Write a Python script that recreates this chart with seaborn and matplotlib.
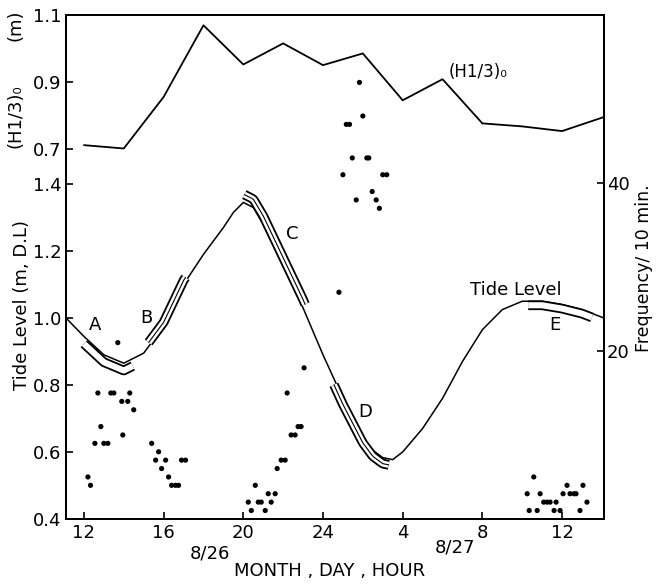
import numpy as np
import pandas as pd
import matplotlib
matplotlib.use("Agg")
import matplotlib.pyplot as plt
import seaborn as sns

# --- data ---
# significant wave height (H1/3)0, every 2 hours from 8/26 12h
h_hour = [12, 14, 16, 18, 20, 22, 24, 26, 28, 30, 32, 34, 36, 38.1]
h_value = [0.712, 0.702, 0.856, 1.07, 0.953, 1.016, 0.951, 0.986, 0.846, 0.909,
           0.777, 0.768, 0.754, 0.796]

# tide level (m, D.L)
tide_hour = [11.1, 12, 13, 14, 15, 16, 17, 18, 19, 19.5, 20, 20.5, 21, 22, 23, 24,
             25, 26, 26.5, 27, 27.5, 28, 29, 30, 31, 32, 33, 34, 35, 36, 37, 38.1]
tide_level = [1.00, 0.945, 0.89, 0.865, 0.895, 0.975, 1.10, 1.19, 1.27, 1.315, 1.345,
              1.33, 1.28, 1.155, 1.03, 0.89, 0.76, 0.645, 0.605, 0.583, 0.577, 0.60,
              0.67, 0.76, 0.87, 0.965, 1.025, 1.05, 1.05, 1.04, 1.025, 1.00]

# frequency per 10 min (dots)
freq_hour = [12.2, 12.33, 12.55, 12.7, 12.85, 13.0, 13.2, 13.35, 13.5, 13.7, 13.9,
             13.95, 14.2, 14.3, 14.5, 15.4, 15.6, 15.75, 15.9, 16.1, 16.25, 16.4,
             16.6, 16.75, 16.9, 17.1,
             20.25, 20.4, 20.6, 20.75, 20.9, 21.1, 21.25, 21.4, 21.6, 21.7, 21.9,
             22.1, 22.2, 22.4, 22.6, 22.75, 22.9, 23.05,
             24.8, 25.0, 25.17, 25.33, 25.47, 25.67, 25.83, 26.0, 26.2, 26.3, 26.47,
             26.67, 26.83, 27.0, 27.2,
             34.25, 34.35, 34.58, 34.75, 34.9, 35.08, 35.25, 35.4, 35.6, 35.7, 35.9,
             36.05, 36.25, 36.4, 36.6, 36.7, 36.9, 37.05, 37.25]
freq_count = [5, 4, 9, 15, 11, 9, 9, 15, 15, 21, 14, 10, 14, 15, 13, 9, 7, 8, 6, 7,
              5, 4, 4, 4, 7, 7,
              2, 1, 4, 2, 2, 1, 3, 2, 3, 6, 7, 7, 15, 10, 10, 11, 11, 18,
              27, 41, 47, 47, 43, 38, 52, 48, 43, 43, 39, 38, 37, 41, 41,
              3, 1, 5, 1, 3, 2, 2, 2, 1, 2, 1, 3, 4, 3, 3, 3, 1, 4, 2]

x_ticks = [12, 16, 20, 24, 28, 32, 36]
x_tick_labels = ["12", "16", "20", "24", "4", "8", "12"]

df_h = pd.DataFrame({"hour": h_hour, "H": h_value})
df_tide = pd.DataFrame({"hour": tide_hour, "tide": tide_level})
df_freq = pd.DataFrame({"hour": freq_hour, "freq": freq_count})

sns.set_style("ticks")
plt.rcParams["font.family"] = ["DejaVu Sans"]
plt.rcParams["text.color"] = "black"
plt.rcParams["axes.labelcolor"] = "black"

fig = plt.figure(figsize=(6.6, 5.87), dpi=100)
ax = fig.add_axes([0.1, 0.116, 0.815, 0.858])
ax_h = ax.twinx()
ax_f = ax.twinx()

# tide level curve
sns.lineplot(data=df_tide, x="hour", y="tide", ax=ax, color="black", lw=1.1)

# hollow bands along the tide curve
def band(h0, h1, dy, center=False):
    hh = np.linspace(h0, h1, 40)
    yy = np.interp(hh, tide_hour, tide_level) + dy
    ax.plot(hh, yy, color="black", lw=7, solid_capstyle="butt", zorder=3)
    ax.plot(hh, yy, color="white", lw=4.4, solid_capstyle="butt", zorder=4)
    if center:
        ax.plot(hh, yy, color="black", lw=0.8, zorder=5)

band(12.0, 14.45, -0.022)
band(15.25, 17.1, 0.012, center=True)
band(20.05, 23.1, 0.025, center=True)
band(24.55, 27.3, -0.018, center=True)
band(34.3, 37.5, -0.012)

for lab, hx, ty in [("A", 12.55, 0.98), ("B", 15.15, 1.0), ("C", 22.45, 1.25),
                    ("D", 26.1, 0.72), ("E", 35.65, 0.98)]:
    ax.text(hx, ty, lab, fontsize=13, ha="center", va="center")
ax.text(31.4, 1.085, "Tide Level", fontsize=13, ha="left", va="center")

# (H1/3)0 curve
sns.lineplot(data=df_h, x="hour", y="H", ax=ax_h, color="black", lw=1.3)
ax_h.text(30.3, 0.93, "(H1/3)₀", fontsize=12, ha="left", va="center")

# frequency dots
sns.scatterplot(data=df_freq, x="hour", y="freq", ax=ax_f, color="black", s=14,
                edgecolor="none")

# axes limits
ax.set_xlim(11.1, 38.1)
ax.set_ylim(0.4, 1.904)
ax_h.set_ylim(-0.4045, 1.1)
ax_f.set_ylim(0, 60)

ax.set_xticks(x_ticks)
ax.set_xticklabels(x_tick_labels)
ax.set_yticks([0.4, 0.6, 0.8, 1.0, 1.2, 1.4])
ax.set_yticklabels(["0.4", "0.6", "0.8", "1.0", "1.2", "1.4"])
ax_h.set_yticks([0.7, 0.9, 1.1])
ax_h.set_yticklabels(["0.7", "0.9", "1.1"])
ax_h.yaxis.tick_left()
ax_f.set_yticks([20, 40])
ax_f.yaxis.tick_right()

for a in (ax, ax_h, ax_f):
    a.set_xlabel("")
    a.set_ylabel("")
    a.tick_params(direction="in", length=5, width=1.2, labelsize=13, colors="black")
    for s in a.spines.values():
        s.set_linewidth(1.4)
        s.set_color("black")
ax.tick_params(axis="x", pad=4)
ax_f.tick_params(axis="y", pad=2)

# labels
fig.text(0.5, 0.028, "MONTH , DAY , HOUR", fontsize=13, ha="center", va="center")
fig.text(210 / 660, 1 - 553 / 587, "8/26", fontsize=13, ha="center", va="center")
fig.text(455 / 660, 1 - 547 / 587, "8/27", fontsize=13, ha="center", va="center")
fig.text(0.034, 1 - 305 / 587, "Tide Level (m, D.L)", fontsize=13, rotation=90,
         ha="center", va="center")
fig.text(0.024, 1 - 116 / 587, "(H1/3)₀", fontsize=13, rotation=90,
         ha="center", va="center")
fig.text(0.024, 1 - 25 / 587, "(m)", fontsize=13, rotation=90,
         ha="center", va="center")
fig.text(0.976, 1 - 268 / 587, "Frequency/ 10 min.", fontsize=12.5, rotation=90,
         ha="center", va="center")

fig.savefig("out.png", dpi=100)
